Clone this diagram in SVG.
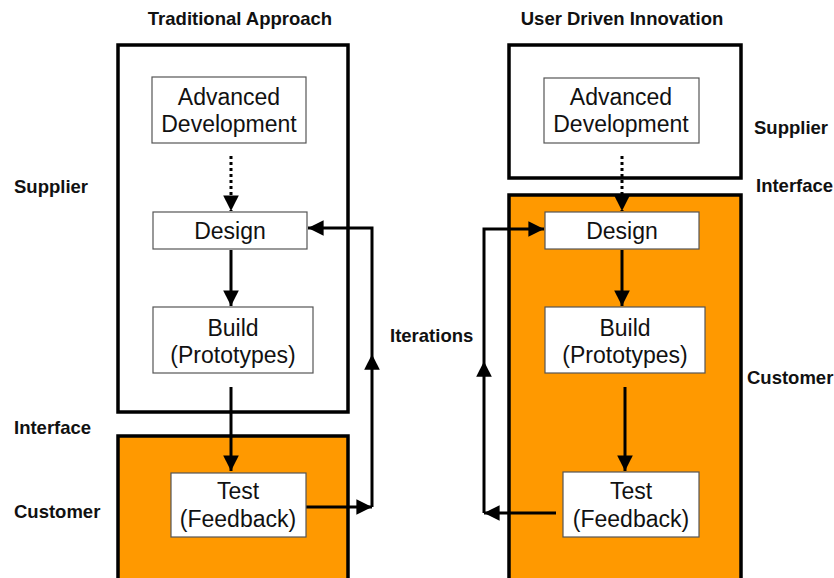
<svg xmlns="http://www.w3.org/2000/svg" width="834" height="578" viewBox="0 0 834 578">
  <style>
    .zone { stroke: #000; stroke-width: 3.5; }
    .white { fill: #fff; }
    .orange { fill: #FF9900; }
    .node rect { fill: #fff; stroke: #555; stroke-width: 1.2; }
    .node text { font-family: "Liberation Sans", Arial, sans-serif; font-size: 23px; fill: #111; text-anchor: middle; }
    .label { font-family: "Liberation Sans", Arial, sans-serif; font-size: 18.5px; font-weight: bold; fill: #111; }
    .title { text-anchor: middle; }
    .conn { fill: none; stroke: #000; stroke-width: 3; }
    .dotted { stroke-dasharray: 3 3; }
  </style>
  <defs>
    <marker id="arrow" viewBox="0 0 10 10" refX="10" refY="5" markerWidth="5.2" markerHeight="5.2" markerUnits="strokeWidth" orient="auto">
      <path d="M0,0 L10,5 L0,10 Z" fill="#000"/>
    </marker>
    <marker id="arrowMid" viewBox="0 0 10 10" refX="5" refY="5" markerWidth="5.2" markerHeight="5.2" markerUnits="strokeWidth" orient="auto">
      <path d="M0,0 L10,5 L0,10 Z" fill="#000"/>
    </marker>
  </defs>

  <!-- zone frames -->
  <g id="zones">
    <rect class="zone white" x="118" y="45" width="230" height="367"/>
    <rect class="zone orange" x="118" y="436" width="230" height="150"/>
    <rect class="zone white" x="509" y="45" width="232" height="133"/>
    <rect class="zone orange" x="509" y="195" width="232" height="391"/>
  </g>

  <!-- labels -->
  <g id="labels">
    <text class="label title" x="240" y="25">Traditional Approach</text>
    <text class="label title" x="622" y="25">User Driven Innovation</text>
    <text class="label" x="14" y="193">Supplier</text>
    <text class="label" x="14" y="434">Interface</text>
    <text class="label" x="14" y="518">Customer</text>
    <text class="label" x="390" y="342">Iterations</text>
    <text class="label" x="754" y="134">Supplier</text>
    <text class="label" x="756" y="192">Interface</text>
    <text class="label" x="747" y="384">Customer</text>
  </g>

  <!-- connectors -->
  <g id="connectors">
    <!-- traditional -->
    <path class="conn dotted" d="M231,156 V211" marker-end="url(#arrow)"/>
    <path class="conn" d="M231,250 V306" marker-end="url(#arrow)"/>
    <path class="conn" d="M231,387 V471" marker-end="url(#arrow)"/>
    <path class="conn" d="M306,507 H372" marker-end="url(#arrow)"/>
    <path class="conn" d="M372,507 V360"/>
    <path class="conn" d="M372,362 V228 H308" marker-start="url(#arrowMid)" marker-end="url(#arrow)"/>
    <!-- user driven -->
    <path class="conn dotted" d="M622,156 V211" marker-end="url(#arrow)"/>
    <path class="conn" d="M622,250 V306" marker-end="url(#arrow)"/>
    <path class="conn" d="M625,387 V471" marker-end="url(#arrow)"/>
    <path class="conn" d="M556,513 H484" marker-end="url(#arrow)"/>
    <path class="conn" d="M484,513 V367"/>
    <path class="conn" d="M484,369 V229 H544" marker-start="url(#arrowMid)" marker-end="url(#arrow)"/>
  </g>

  <!-- traditional approach nodes -->
  <g id="trad-advanced" class="node">
    <rect x="152" y="77" width="154" height="66"/>
    <text x="229" y="105">Advanced</text>
    <text x="229" y="132">Development</text>
  </g>
  <g id="trad-design" class="node">
    <rect x="153" y="212" width="154" height="37"/>
    <text x="230" y="239">Design</text>
  </g>
  <g id="trad-build" class="node">
    <rect x="153" y="307" width="160" height="66"/>
    <text x="233" y="336">Build</text>
    <text x="233" y="363">(Prototypes)</text>
  </g>
  <g id="trad-test" class="node">
    <rect x="171" y="473" width="135" height="64"/>
    <text x="238" y="499">Test</text>
    <text x="238" y="527">(Feedback)</text>
  </g>

  <!-- user driven innovation nodes -->
  <g id="udi-advanced" class="node">
    <rect x="544" y="78" width="155" height="65"/>
    <text x="621" y="105">Advanced</text>
    <text x="621" y="132">Development</text>
  </g>
  <g id="udi-design" class="node">
    <rect x="545" y="212" width="154" height="37"/>
    <text x="622" y="239">Design</text>
  </g>
  <g id="udi-build" class="node">
    <rect x="545" y="307" width="160" height="66"/>
    <text x="625" y="336">Build</text>
    <text x="625" y="363">(Prototypes)</text>
  </g>
  <g id="udi-test" class="node">
    <rect x="563" y="472" width="136" height="65"/>
    <text x="631" y="499">Test</text>
    <text x="631" y="527">(Feedback)</text>
  </g>
</svg>
